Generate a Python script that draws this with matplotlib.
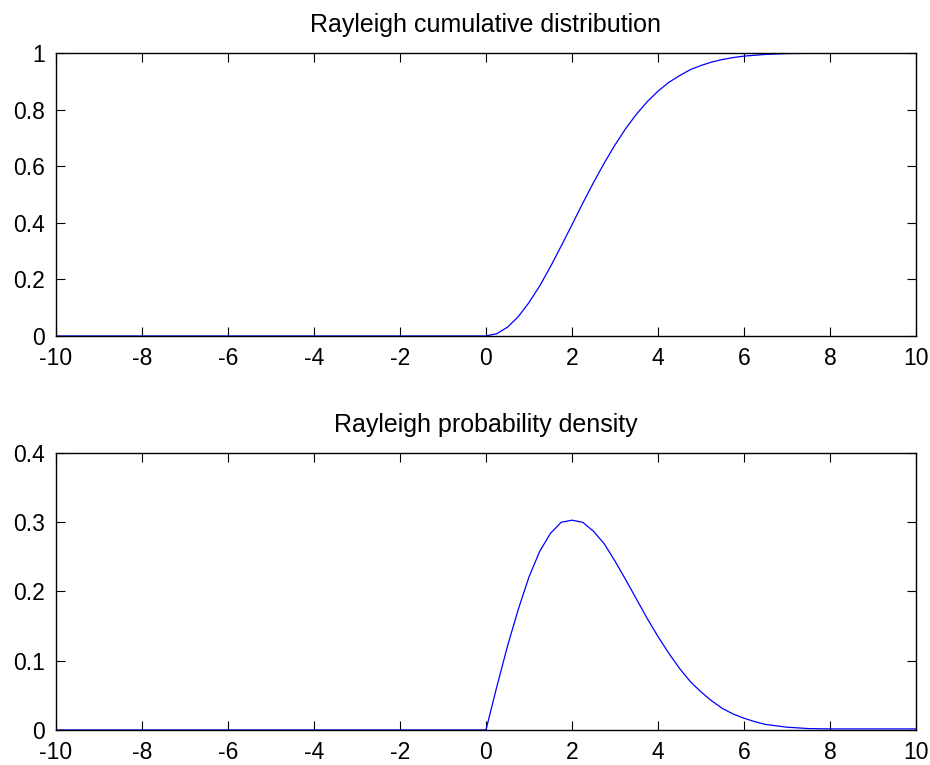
import matplotlib
matplotlib.use("Agg")
import matplotlib.pyplot as plt

plt.rcParams['font.family'] = ['Liberation Sans', 'DejaVu Sans']
plt.rcParams['axes.unicode_minus'] = False

# Support: zero on the negative half, sampled values on [0, 10]
x_neg = [-10.0, -5.0, 0.0]
x_pos = [0.0, 0.25, 0.5, 0.75, 1.0, 1.25, 1.5, 1.75, 2.0, 2.25, 2.5, 2.75,
         3.0, 3.25, 3.5, 3.75, 4.0, 4.25, 4.5, 4.75, 5.0, 5.25, 5.5, 5.75,
         6.0, 6.25, 6.5, 7.0, 7.5, 8.0, 9.0, 10.0]

cdf_pos = [0.0, 0.008, 0.031, 0.068, 0.118, 0.177, 0.245, 0.318, 0.393,
           0.469, 0.542, 0.611, 0.675, 0.733, 0.784, 0.828, 0.865, 0.896,
           0.920, 0.941, 0.956, 0.968, 0.977, 0.984, 0.989, 0.992, 0.995,
           0.998, 0.999, 1.0, 1.0, 1.0]

pdf_pos = [0.0, 0.062, 0.121, 0.174, 0.221, 0.258, 0.284, 0.300, 0.303,
           0.300, 0.287, 0.269, 0.244, 0.217, 0.189, 0.161, 0.135, 0.111,
           0.089, 0.070, 0.055, 0.042, 0.031, 0.023, 0.017, 0.012, 0.008,
           0.004, 0.002, 0.0015, 0.0015, 0.0015]

zeros_neg = [0.0, 0.0, 0.0]

x_ticks = [-10, -8, -6, -4, -2, 0, 2, 4, 6, 8, 10]
x_labels = [str(v) for v in x_ticks]
cdf_ticks = [0, 0.2, 0.4, 0.6, 0.8, 1]
cdf_labels = ['0', '0.2', '0.4', '0.6', '0.8', '1']
pdf_ticks = [0, 0.1, 0.2, 0.3, 0.4]
pdf_labels = ['0', '0.1', '0.2', '0.3', '0.4']

fig = plt.figure(figsize=(9.3, 7.65), dpi=100)
ax1 = fig.add_axes([0.0602, 0.5608, 0.9247, 0.3699])
ax2 = fig.add_axes([0.0602, 0.0458, 0.9247, 0.3620])

line_kw = dict(color=(0, 0, 1), linewidth=0.9, zorder=2)

ax1.plot(x_neg + x_pos, zeros_neg + cdf_pos, **line_kw)
ax2.plot(x_neg + x_pos, zeros_neg + pdf_pos, **line_kw)

for ax, yt, yl, ylim, title in [
        (ax1, cdf_ticks, cdf_labels, (0, 1), 'Rayleigh cumulative distribution'),
        (ax2, pdf_ticks, pdf_labels, (0, 0.4), 'Rayleigh probability density')]:
    ax.set_xlim(-10, 10)
    ax.set_ylim(*ylim)
    ax.set_xticks(x_ticks)
    ax.set_xticklabels(x_labels)
    ax.set_yticks(yt)
    ax.set_yticklabels(yl)
    ax.tick_params(direction='in', length=6.5, width=0.8, labelsize=16.5,
                   top=True, right=True, color='black')
    ax.tick_params(axis='x', pad=8)
    ax.tick_params(axis='y', pad=8)
    for s in ax.spines.values():
        s.set_linewidth(1.0)
        s.set_color('black')
        s.set_zorder(3)
    ax.set_title(title, fontsize=18, pad=15)

fig.savefig('out.png', dpi=100)
